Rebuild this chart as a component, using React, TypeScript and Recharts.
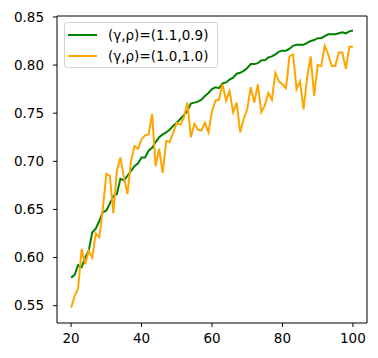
import { Legend, Line, LineChart, ReferenceArea, XAxis, YAxis } from 'recharts'

// x positions (one point per step)
const STEPS = [
  20, 21, 22, 23, 24, 25, 26, 27, 28, 29, 30, 31, 32, 33, 34, 35, 36, 37, 38, 39, 40,
  41, 42, 43, 44, 45, 46, 47, 48, 49, 50, 51, 52, 53, 54, 55, 56, 57, 58, 59, 60,
  61, 62, 63, 64, 65, 66, 67, 68, 69, 70, 71, 72, 73, 74, 75, 76, 77, 78, 79, 80,
  81, 82, 83, 84, 85, 86, 87, 88, 89, 90, 91, 92, 93, 94, 95, 96, 97, 98, 99, 100,
]

// (γ,ρ)=(1.1,0.9)
const GREEN_VALUES = [
  0.579, 0.582, 0.592, 0.59, 0.6, 0.607, 0.626, 0.63, 0.638, 0.647, 0.649,
  0.656, 0.664, 0.666, 0.682, 0.68, 0.685, 0.69, 0.695, 0.698, 0.704,
  0.704, 0.711, 0.714, 0.72, 0.725, 0.728, 0.73, 0.733, 0.737, 0.74,
  0.744, 0.748, 0.752, 0.76, 0.761, 0.762, 0.764, 0.768, 0.771, 0.775,
  0.777, 0.776, 0.781, 0.782, 0.785, 0.787, 0.791, 0.792, 0.794, 0.797,
  0.801, 0.801, 0.802, 0.805, 0.805, 0.808, 0.809, 0.811, 0.814, 0.815,
  0.815, 0.817, 0.82, 0.821, 0.821, 0.821, 0.823, 0.825, 0.826, 0.828,
  0.828, 0.83, 0.832, 0.832, 0.832, 0.833, 0.834, 0.833, 0.835, 0.836,
]

// (γ,ρ)=(1.0,1.0)
const ORANGE_VALUES = [
  0.548, 0.56, 0.568, 0.609, 0.593, 0.607, 0.6, 0.625, 0.621, 0.65, 0.687,
  0.685, 0.646, 0.69, 0.704, 0.683, 0.666, 0.7, 0.716, 0.713, 0.723,
  0.727, 0.728, 0.749, 0.695, 0.713, 0.688, 0.721, 0.72, 0.73, 0.74,
  0.738, 0.745, 0.761, 0.725, 0.739, 0.733, 0.732, 0.74, 0.73, 0.752,
  0.763, 0.764, 0.78, 0.763, 0.773, 0.751, 0.761, 0.73, 0.744, 0.754,
  0.777, 0.761, 0.78, 0.751, 0.758, 0.771, 0.764, 0.792, 0.783, 0.78,
  0.776, 0.809, 0.811, 0.775, 0.783, 0.754, 0.787, 0.809, 0.768, 0.8,
  0.799, 0.82, 0.811, 0.799, 0.799, 0.813, 0.813, 0.796, 0.819, 0.819,
]

const SERIES_NAMES = ['(γ,ρ)=(1.1,0.9)', '(γ,ρ)=(1.0,1.0)']
const X_TICKS = [20, 40, 60, 80, 100]
const Y_TICKS = [0.55, 0.6, 0.65, 0.7, 0.75, 0.8, 0.85]

const X_DOMAIN: [number, number] = [16, 104]
const Y_DOMAIN: [number, number] = [0.532, 0.851]

const GREEN = '#008000'
const ORANGE = '#ffa500'
const FONT = '"DejaVu Sans", sans-serif'

const data = STEPS.map((x, i) => ({ x, green: GREEN_VALUES[i], orange: ORANGE_VALUES[i] }))

function LegendBox({ payload }: any) {
  // keep plotting order, not the alphabetical one
  const items = SERIES_NAMES.map((name) => (payload ?? []).find((p: any) => p.value === name)).filter(Boolean)
  return (
    <div
      style={{
        border: '1px solid #d5d5d5',
        borderRadius: 3,
        background: 'rgba(255,255,255,0.8)',
        padding: '1px 9px 1px 3px',
        fontFamily: FONT,
        fontSize: 13.5,
        color: '#000',
      }}
    >
      {items.map((entry: any) => (
        <div key={entry.value} style={{ display: 'flex', alignItems: 'center', height: 21 }}>
          <span style={{ width: 29, height: 2, background: entry.color, marginRight: 11 }} />
          <span>{entry.value}</span>
        </div>
      ))}
    </div>
  )
}

export default function App() {
  const tick = { fill: '#000', fontSize: 13.5, fontFamily: FONT }
  return (
    <div style={{ position: 'absolute', left: 0, top: 0, background: '#fff' }}>
      <LineChart width={378} height={358} data={data} margin={{ top: 16, right: 11, bottom: 0, left: 0 }}>
        <XAxis
          dataKey="x"
          type="number"
          domain={X_DOMAIN}
          ticks={X_TICKS}
          allowDataOverflow
          height={35}
          tick={tick}
          tickSize={4}
          tickMargin={6}
          stroke="#000"
          tickLine={{ stroke: '#000' }}
          axisLine={false}
        />
        <YAxis
          type="number"
          domain={Y_DOMAIN}
          ticks={Y_TICKS}
          allowDataOverflow
          width={57}
          tick={tick}
          tickSize={4}
          tickMargin={9}
          tickFormatter={(v: number) => v.toFixed(2)}
          stroke="#000"
          tickLine={{ stroke: '#000' }}
          axisLine={false}
        />
        <ReferenceArea
          x1={X_DOMAIN[0]}
          x2={X_DOMAIN[1]}
          y1={Y_DOMAIN[0]}
          y2={Y_DOMAIN[1]}
          fill="none"
          stroke="#000"
          strokeWidth={1}
          ifOverflow="visible"
        />
        <Line
          dataKey="green"
          name={SERIES_NAMES[0]}
          type="linear"
          stroke={GREEN}
          strokeWidth={2}
          dot={false}
          isAnimationActive={false}
        />
        <Line
          dataKey="orange"
          name={SERIES_NAMES[1]}
          type="linear"
          stroke={ORANGE}
          strokeWidth={2}
          dot={false}
          isAnimationActive={false}
        />
        <Legend
          layout="vertical"
          align="center"
          verticalAlign="middle"
          content={<LegendBox />}
          wrapperStyle={{ left: 64, top: 22, width: 'auto' }}
        />
      </LineChart>
    </div>
  )
}
